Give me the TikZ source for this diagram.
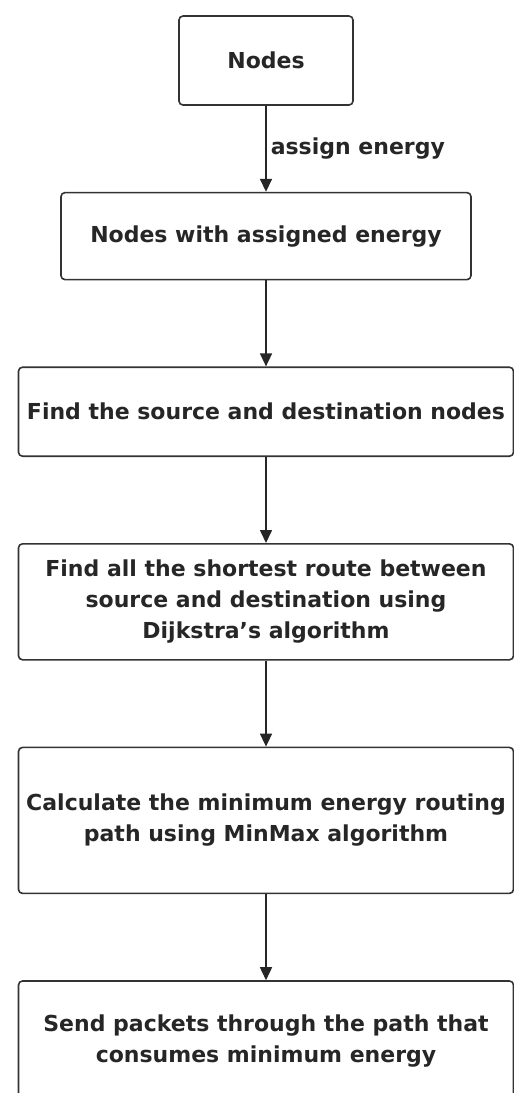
\documentclass[tikz,border=0pt]{standalone}
\usepackage{fontspec}
\setmainfont{DejaVu Sans}
\usetikzlibrary{matrix,shapes,arrows.meta}

\begin{document}
\begin{tikzpicture}[x=1pt,y=1pt]
      \tikzstyle{box} = [rectangle, rounded corners=4pt, draw=black!80, line width=1.6pt, align=center, text=black!85, font=\bfseries\fontsize{22}{31}\selectfont]
      \tikzstyle{flow} = [line width=1.6pt, draw=black!85, -{Triangle[length=13pt,width=12pt]}]
      \useasboundingbox (0,0) rectangle (514,-1093);
      \matrix (chart) [row sep = 86pt, inner sep=0pt, anchor=north] at (266,-15) {
        % first row
        \node (nodes) [box, minimum width=174pt, minimum height=89pt] {Nodes};\\
        % second row
        \node (energized) [box, minimum width=410pt, minimum height=87pt] {Nodes with assigned energy};\\
        % third row
        \node (ends) [box, minimum width=495pt, minimum height=89pt] {Find the source and destination nodes};\\
        % fourth row
        \node (dijkstra) [box, minimum width=495pt, minimum height=116pt] {Find all the shortest route between\\ source and destination using\\ Dijkstra's algorithm};\\
        % fifth row
        \node (minmax) [box, minimum width=495pt, minimum height=146pt] {Calculate the minimum energy routing\\ path using MinMax algorithm};\\
        % sixth row
        \node (send) [box, minimum width=495pt, minimum height=120pt] {Send packets through the path that\\ consumes minimum energy};\\
      };
      \draw [flow] (nodes)--node[right, inner sep=4pt, text=black!85, font=\bfseries\fontsize{22}{31}\selectfont]{assign energy} (energized);
      \draw [flow] (energized)--(ends);
      \draw [flow] (ends)--(dijkstra);
      \draw [flow] (dijkstra)--(minmax);
      \draw [flow] (minmax)--(send);
    \end{tikzpicture}
\end{document}
